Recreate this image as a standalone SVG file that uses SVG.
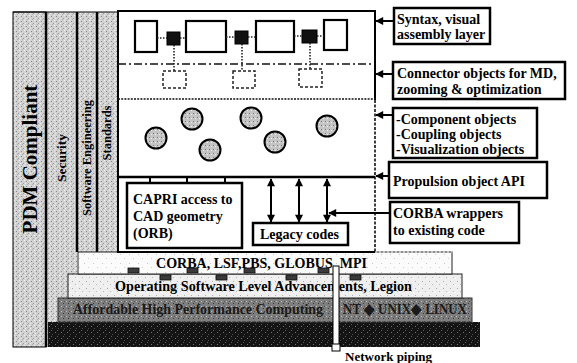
<svg xmlns="http://www.w3.org/2000/svg" width="577" height="363" viewBox="0 0 577 363">
<style>
.t{font-family:"Liberation Serif","Times New Roman",serif;font-weight:bold;fill:#000}
.lbl{fill:#fff;stroke:#000;stroke-width:2.5}
.blk{fill:#fff;stroke:#000;stroke-width:2.2}
.sq{fill:#111;stroke:#000;stroke-width:1}
.dsq{fill:none;stroke:#222;stroke-width:1.5;stroke-dasharray:3,2}
.dot{stroke:#222;stroke-width:1.6;stroke-dasharray:1.5,1.5;fill:none}
.ar{stroke:#000;stroke-width:2;fill:none}
.circ{fill:url(#stipC);stroke:#000;stroke-width:2}
.tab{fill:#3a3a3a;stroke:#111;stroke-width:0.8}
</style>
<defs>
<pattern id="stip" width="5" height="5" patternUnits="userSpaceOnUse">
<rect width="5" height="5" fill="#d2d2d2"/>
<rect x="1" y="1" width="1" height="1" fill="#8a8a8a"/>
<rect x="3" y="3" width="1" height="1" fill="#9c9c9c"/>
<rect x="4" y="0" width="1" height="1" fill="#f2f2f2"/>
<rect x="0" y="3" width="1" height="1" fill="#eeeeee"/>
<rect x="2" y="4" width="1" height="1" fill="#b0b0b0"/>
</pattern>
<pattern id="stipC" width="4" height="4" patternUnits="userSpaceOnUse">
<rect width="4" height="4" fill="#c4c4c4"/>
<rect x="1" y="1" width="1" height="1" fill="#7a7a7a"/>
<rect x="3" y="2" width="1" height="1" fill="#efefef"/>
</pattern>
<pattern id="stipL" width="7" height="7" patternUnits="userSpaceOnUse">
<rect width="7" height="7" fill="#efefef"/>
<rect x="2" y="1" width="1" height="1" fill="#aaaaaa"/>
<rect x="5" y="4" width="1" height="1" fill="#bbbbbb"/>
<rect x="0" y="5" width="1" height="1" fill="#ffffff"/>
</pattern>
<pattern id="stipW" width="9" height="9" patternUnits="userSpaceOnUse">
<rect width="9" height="9" fill="#fbfbfb"/>
<rect x="3" y="2" width="1" height="1" fill="#c8c8c8"/>
<rect x="7" y="6" width="1" height="1" fill="#d0d0d0"/>
</pattern>
<pattern id="stipG" width="5" height="5" patternUnits="userSpaceOnUse">
<rect width="5" height="5" fill="#7e7e7e"/>
<rect x="1" y="1" width="1" height="1" fill="#c0c0c0"/>
<rect x="3" y="3" width="1" height="1" fill="#3a3a3a"/>
<rect x="4" y="1" width="1" height="1" fill="#555"/>
</pattern>
<pattern id="stipD" width="6" height="6" patternUnits="userSpaceOnUse">
<rect width="6" height="6" fill="#141414"/>
<rect x="1" y="2" width="1" height="1" fill="#707070"/>
<rect x="4" y="4" width="1" height="1" fill="#4a4a4a"/>
<rect x="3" y="0" width="1" height="1" fill="#5a5a5a"/>
</pattern>
<marker id="ah" viewBox="0 0 10 10" refX="9" refY="5" markerWidth="9" markerHeight="8" orient="auto-start-reverse" markerUnits="userSpaceOnUse">
<path d="M0,0 L10,5 L0,10 z" fill="#000"/>
</marker>
</defs>

<g id="columns">
<rect x="13" y="12" width="33" height="335" fill="url(#stip)" stroke="#000" stroke-width="1"/>
<rect x="46" y="12" width="31" height="335" fill="url(#stip)"/>
<rect x="77" y="12" width="20" height="240" fill="url(#stip)"/>
<rect x="97" y="12" width="21" height="240" fill="url(#stip)"/>
<line x1="13" y1="12" x2="118" y2="12" stroke="#000" stroke-width="1.2"/>
<line x1="46" y1="12" x2="46" y2="347" stroke="#000" stroke-width="2.5"/>
<line x1="77" y1="12" x2="77" y2="252" stroke="#000" stroke-width="2.5"/>
<line x1="97" y1="12" x2="97" y2="252" stroke="#000" stroke-width="2.5"/>
<text class="t" font-size="21" text-anchor="middle" transform="translate(37,159) rotate(-90)">PDM Compliant</text>
<text class="t" font-size="13.5" text-anchor="middle" transform="translate(66,158) rotate(-90)">Security</text>
<text class="t" font-size="12.5" text-anchor="middle" transform="translate(91,158) rotate(-90)">Software Engineering</text>
<text class="t" font-size="12.5" text-anchor="middle" transform="translate(111,133) rotate(-90)">Standards</text>
</g>

<g id="layers">
<rect x="48" y="322" width="432" height="25" fill="url(#stipD)"/>
<rect x="58" y="298" width="414" height="24" fill="url(#stipG)" stroke="#333" stroke-width="1"/>
<text class="t" font-size="14.5" x="73" y="314" textLength="250" lengthAdjust="spacingAndGlyphs" style="fill:#1a1a1a">Affordable High Performance Computing</text>
<text class="t" font-size="14.5" x="343" y="314" textLength="124" lengthAdjust="spacingAndGlyphs" style="fill:#1a1a1a">NT ◆ UNIX◆ LINUX</text>
<rect x="68" y="274" width="394" height="24" fill="url(#stipL)" stroke="#222" stroke-width="1"/>
<text class="t" font-size="14.5" x="115" y="291" textLength="297" lengthAdjust="spacingAndGlyphs">Operating Software Level Advancements, Legion</text>
<rect x="78" y="252" width="374" height="22" fill="url(#stipW)" stroke="#222" stroke-width="1"/>
<line x1="375" y1="252" x2="452" y2="252" stroke="#fff" stroke-width="1.2" stroke-dasharray="2,2"/>
<text class="t" font-size="14.5" x="156" y="268" textLength="211" lengthAdjust="spacingAndGlyphs">CORBA, LSF,PBS, GLOBUS, MPI</text>
<rect class="tab" x="128" y="268" width="11" height="5"/>
<rect class="tab" x="160" y="275" width="11" height="5"/>
<rect class="tab" x="187" y="268" width="11" height="5"/>
<rect class="tab" x="216" y="275" width="11" height="5"/>
<rect class="tab" x="244" y="268" width="11" height="5"/>
<rect class="tab" x="286" y="275" width="11" height="5"/>
<rect class="tab" x="318" y="268" width="11" height="5"/>
<rect class="tab" x="350" y="275" width="11" height="5"/>
</g>

<g id="network-piping">
<rect x="333" y="266" width="6" height="80" fill="#fff" stroke="#000" stroke-width="1"/>
<rect x="332" y="344" width="8" height="7" fill="#fff" stroke="#000" stroke-width="1"/>
<text class="t" font-size="13" x="345" y="361">Network piping</text>
</g>

<g id="main-box">
<rect x="118" y="11" width="257" height="241" fill="#fff"/>
<path d="M375,100 V11 H118 V252 H375" fill="none" stroke="#000" stroke-width="2"/>
<line x1="375" y1="100" x2="375" y2="252" stroke="#000" stroke-width="1.5" stroke-dasharray="3,1.5"/>
<line x1="118" y1="64" x2="375" y2="64" stroke="#111" stroke-width="1.6" stroke-dasharray="8,3,2,3"/>
<line x1="118" y1="99" x2="375" y2="99" stroke="#111" stroke-width="1.6" stroke-dasharray="2,1.2"/>
<line x1="118" y1="177" x2="375" y2="177" stroke="#000" stroke-width="2.5"/>
</g>

<g id="syntax-layer">
<rect class="blk" x="135" y="21" width="22" height="31"/>
<rect class="blk" x="186" y="21" width="40" height="31"/>
<rect class="blk" x="256" y="21" width="38" height="31"/>
<rect class="blk" x="324" y="20" width="23" height="30"/>
<rect class="sq" x="167" y="32" width="13" height="13"/>
<rect class="sq" x="235" y="31" width="13" height="13"/>
<rect class="sq" x="302" y="30" width="15" height="13"/>
<rect class="dsq" x="163" y="71" width="23" height="17"/>
<rect class="dsq" x="233" y="71" width="22" height="17"/>
<rect class="dsq" x="299" y="69" width="23" height="18"/>
</g>

<g id="objects">
<circle class="circ" cx="156" cy="138" r="10.5"/>
<circle class="circ" cx="192" cy="119" r="10.5"/>
<circle class="circ" cx="210" cy="150" r="10.5"/>
<circle class="circ" cx="251" cy="118" r="10.5"/>
<circle class="circ" cx="275" cy="142" r="10.5"/>
<circle class="circ" cx="327" cy="126" r="10.5"/>
</g>

<g id="capri">
<rect x="127" y="183" width="115" height="65" fill="#fff" stroke="#000" stroke-width="2.5"/>
<text class="t" font-size="14" x="133" y="204">CAPRI access to</text>
<text class="t" font-size="14" x="133" y="221">CAD geometry</text>
<text class="t" font-size="14" x="133" y="238">(ORB)</text>
</g>

<g id="legacy">
<rect x="253" y="223" width="95" height="22" fill="#fff" stroke="#000" stroke-width="2.5"/>
<text class="t" font-size="14" x="260" y="239">Legacy codes</text>
</g>

<g id="label-syntax">
<rect class="lbl" x="394" y="8" width="96" height="36"/>
<text class="t" font-size="14" x="397" y="24">Syntax, visual</text>
<text class="t" font-size="14" x="397" y="39">assembly layer</text>
</g>
<g id="label-connector">
<rect class="lbl" x="393" y="62" width="172" height="37"/>
<text class="t" font-size="14" x="397" y="78">Connector objects for MD,</text>
<text class="t" font-size="14" x="397" y="94">zooming &amp; optimization</text>
</g>
<g id="label-component">
<rect class="lbl" x="393" y="108" width="144" height="50"/>
<text class="t" font-size="14" x="396" y="124">-Component objects</text>
<text class="t" font-size="14" x="396" y="139">-Coupling objects</text>
<text class="t" font-size="14" x="396" y="154">-Visualization objects</text>
</g>
<g id="label-propulsion">
<rect class="lbl" x="389" y="162" width="158" height="36"/>
<text class="t" font-size="14" x="393" y="186">Propulsion object API</text>
</g>
<g id="label-wrappers">
<rect class="lbl" x="390" y="202" width="129" height="41"/>
<text class="t" font-size="14" x="393" y="218">CORBA wrappers</text>
<text class="t" font-size="14" x="393" y="235">to existing code</text>
</g>

<g id="connectors">
<line class="dot" x1="157" y1="38" x2="167" y2="38"/>
<line class="dot" x1="180" y1="38" x2="186" y2="38"/>
<line class="dot" x1="226" y1="37" x2="235" y2="37"/>
<line class="dot" x1="248" y1="37" x2="256" y2="37"/>
<line class="dot" x1="294" y1="36" x2="302" y2="36"/>
<line class="dot" x1="317" y1="36" x2="324" y2="36"/>
<line class="dot" x1="174" y1="45" x2="174" y2="71"/>
<line class="dot" x1="242" y1="44" x2="242" y2="71"/>
<line class="dot" x1="310" y1="43" x2="310" y2="69"/>
<line x1="150" y1="177" x2="150" y2="183" stroke="#000" stroke-width="2"/>
<line x1="187" y1="177" x2="187" y2="183" stroke="#000" stroke-width="2"/>
<line x1="225" y1="177" x2="225" y2="183" stroke="#000" stroke-width="2"/>
<line class="ar" x1="271" y1="179" x2="271" y2="222" marker-start="url(#ah)" marker-end="url(#ah)"/>
<line class="ar" x1="299" y1="179" x2="299" y2="222" marker-start="url(#ah)" marker-end="url(#ah)"/>
<line class="ar" x1="327" y1="179" x2="327" y2="222" marker-start="url(#ah)" marker-end="url(#ah)"/>
<line class="ar" x1="394" y1="21" x2="376" y2="21" marker-end="url(#ah)"/>
<line class="ar" x1="393" y1="74" x2="376" y2="74" marker-end="url(#ah)"/>
<line class="ar" x1="393" y1="115" x2="376" y2="115" marker-end="url(#ah)"/>
<line class="ar" x1="389" y1="176" x2="376" y2="176" marker-end="url(#ah)"/>
<line class="ar" x1="390" y1="213" x2="329" y2="213" marker-end="url(#ah)"/>
</g>
</svg>
